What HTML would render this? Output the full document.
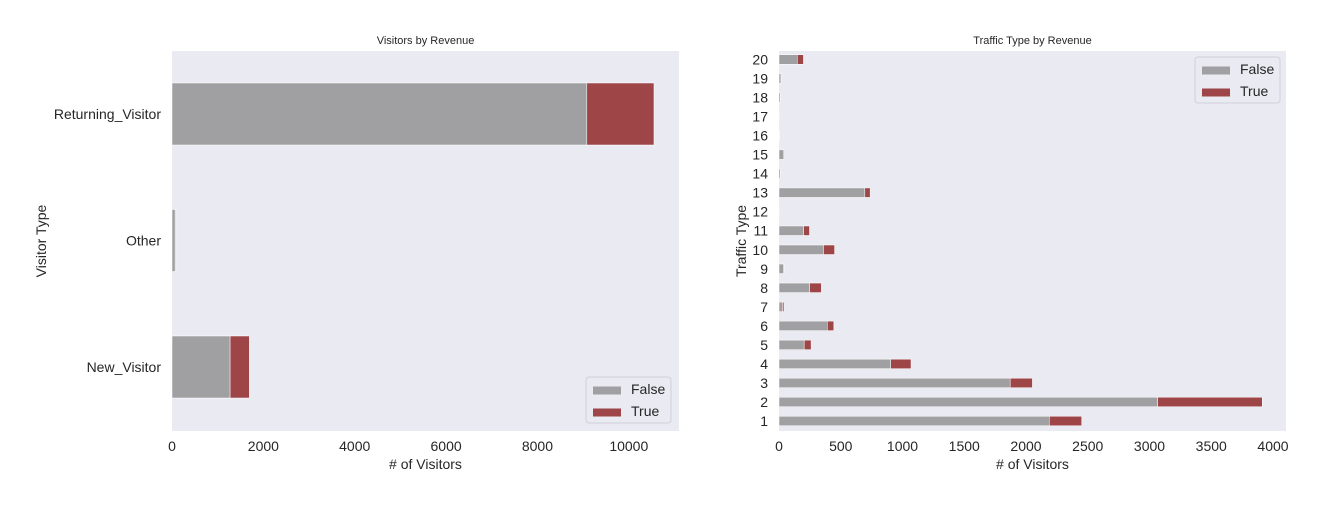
<!DOCTYPE html>
<html><head><meta charset="utf-8">
<style>
body{margin:0;background:#fff;}
svg{display:block;font-family:"Liberation Sans",Arial,sans-serif;}
</style></head>
<body>
<svg id="chart" width="1324" height="508"></svg>
<script>
// Left chart data
const visitorCats = ["New_Visitor","Other","Returning_Visitor"];
const visitorFalse = [1272, 69, 9081];
const visitorTrue = [422, 16, 1470];
const leftTicks = [0, 2000, 4000, 6000, 8000, 10000];
// Right chart data
const trafficCats = ["1","2","3","4","5","6","7","8","9","10","11","12","13","14","15","16","17","18","19","20"];
const trafficFalse = [2189, 3066, 1872, 904, 204, 391, 28, 248, 38, 360, 200, 1, 695, 11, 38, 2, 1, 10, 16, 148];
const trafficTrue = [262, 847, 180, 165, 56, 53, 12, 95, 4, 90, 47, 0, 43, 2, 0, 1, 0, 0, 1, 50];
const rightTicks = [0, 500, 1000, 1500, 2000, 2500, 3000, 3500, 4000];

const NS = "http://www.w3.org/2000/svg";
const svg = document.getElementById("chart");
const GREY = "#a0a0a2", RED = "#9e4548";
function mk(tag, attrs, parent){
  const e = document.createElementNS(NS, tag);
  for (const k in attrs) e.setAttribute(k, attrs[k]);
  (parent||svg).appendChild(e);
  return e;
}
function txt(s, attrs, parent){ const t = mk("text", attrs, parent); t.textContent = s; return t; }

function panel(cfg){
  const g = mk("g", {});
  
  
  const {x0, x1, y0, y1} = cfg;
  const bg = mk("rect", {x:x0, y:y0, width:x1-x0, height:y1-y0, fill:"#eaeaf2"}, g);
  
  
  const xs = v => x0 + v * cfg.pxPer;
  const n = cfg.cats.length;
  const ys = i => cfg.yFirst + (cfg.yLast - cfg.yFirst) * i / (n - 1);
  cfg.cats.forEach((c, i) => {
    const yc = ys(i), h = cfg.barH;
    const bf = mk("rect", {x:xs(0), y:yc-h/2, width:Math.max(0, xs(cfg.f[i])-xs(0)), height:h, fill:GREY, stroke:"#fff", "stroke-width":0.5}, g);
    
    
    const bt = mk("rect", {x:xs(cfg.f[i]), y:yc-h/2, width:Math.max(0, xs(cfg.t[i])-xs(0)), height:h, fill:RED, stroke:"#fff", "stroke-width":0.5}, g);
    
    
    const lab = txt(c, {x:x0-11, y:yc+5, "text-anchor":"end", "font-size":14, fill:"#262626"}, g);
    
    
  });
  cfg.ticks.forEach(t => {
    const tl = txt(String(t), {x:xs(t), y:y1+20, "text-anchor":"middle", "font-size":14, fill:"#262626"}, g);
    
    
  });
  const ti = txt(cfg.title, {x:(x0+x1)/2, y:y0-7, "text-anchor":"middle", "font-size":11, fill:"#262626"}, g);
  
  
  const xl = txt("# of Visitors", {x:(x0+x1)/2, y:y1+38, "text-anchor":"middle", "font-size":14, fill:"#262626"}, g);
  
  
  const yl = txt(cfg.ylabel, {x:0, y:0, "text-anchor":"middle", "font-size":14, fill:"#262626", transform:`translate(${cfg.ylx},${(y0+y1)/2}) rotate(-90)`}, g);
  
  
  // legend
  const L = cfg.legend;
  const lg = mk("g", {}, g);
  
  
  mk("rect", {x:L.x, y:L.y, width:85, height:46, rx:3, fill:"#eaeaf2", stroke:"#d0d0d8", "stroke-width":1}, lg);
  [["False", GREY], ["True", RED]].forEach((e, k) => {
    const eg = mk("g", {}, lg);
    
    
    mk("rect", {x:L.x+7, y:L.y+10+k*22-3.5+3, width:28, height:8, fill:e[1]}, eg);
    txt(e[0], {x:L.x+45, y:L.y+17+k*22, "font-size":14, fill:"#262626"}, eg);
  });
}

panel({name:"visitors-by-revenue", x0:172, x1:679, y0:51, y1:431, pxPer:0.04568,
  cats:visitorCats, f:visitorFalse, t:visitorTrue, ticks:leftTicks,
  yFirst:367, yLast:114, barH:62, title:"Visitors by Revenue", ylabel:"Visitor Type", ylx:46,
  legend:{x:586, y:377}});
panel({name:"traffic-type-by-revenue", x0:779, x1:1286, y0:51, y1:431, pxPer:0.1235,
  cats:trafficCats, f:trafficFalse, t:trafficTrue, ticks:rightTicks,
  yFirst:421, yLast:59.5, barH:9.5, title:"Traffic Type by Revenue", ylabel:"Traffic Type", ylx:746,
  legend:{x:1195, y:57}});
</script>
</body></html>
